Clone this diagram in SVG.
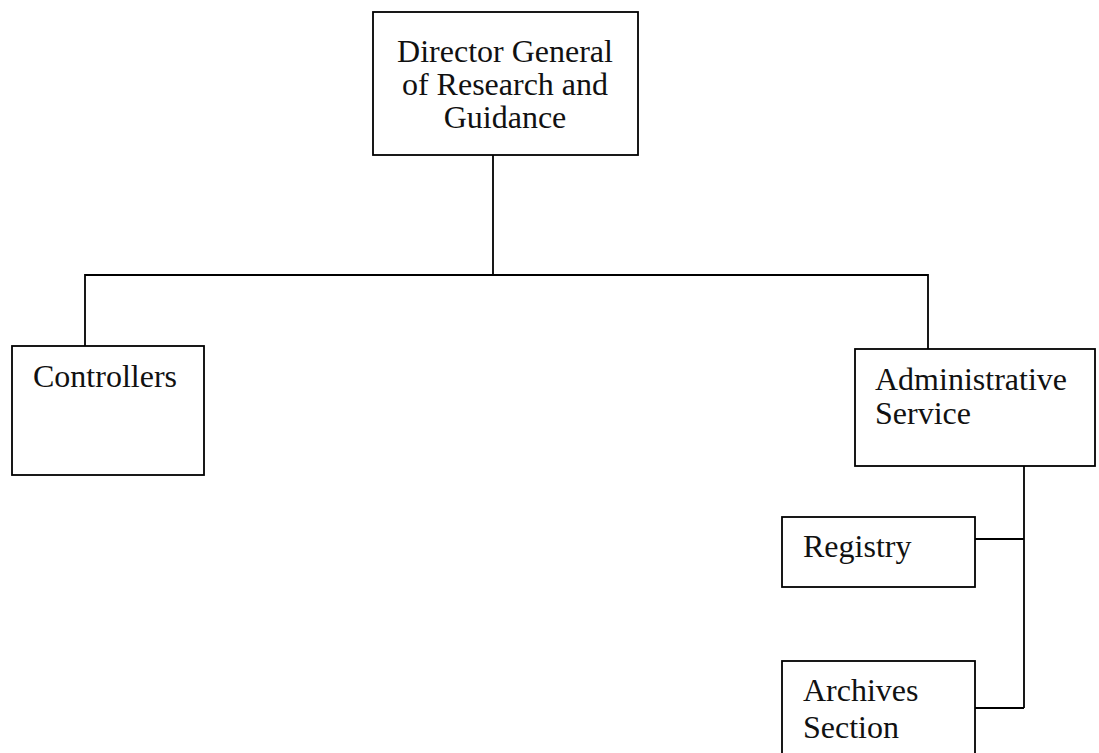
<svg xmlns="http://www.w3.org/2000/svg" width="1099" height="753" viewBox="0 0 1099 753">
<style>
.box{fill:#fff;stroke:#000;stroke-width:1.8}
.t{font-family:"Liberation Serif","Times New Roman",serif;font-size:32px;fill:#111}
.c{fill:none;stroke:#000;stroke-width:1.8}
</style>
<rect width="1099" height="753" fill="#fff"/>
<g id="connectors">
<path class="c" d="M493 155V275M85 346V275H928V349"/>
<path class="c" d="M1024 466V708M975 539H1024M975 708H1024"/>
</g>
<g id="director">
<rect class="box" x="373" y="12" width="265" height="143"/>
<text class="t" text-anchor="middle"><tspan x="505" y="62">Director General</tspan><tspan x="505" y="95">of Research and</tspan><tspan x="505" y="128">Guidance</tspan></text>
</g>
<g id="controllers">
<rect class="box" x="12" y="346" width="192" height="129"/>
<text class="t" x="33" y="387">Controllers</text>
</g>
<g id="admin">
<rect class="box" x="855" y="349" width="240" height="117"/>
<text class="t"><tspan x="875" y="390">Administrative</tspan><tspan x="875" y="424">Service</tspan></text>
</g>
<g id="registry">
<rect class="box" x="782" y="517" width="193" height="70"/>
<text class="t" x="803" y="557">Registry</text>
</g>
<g id="archives">
<rect class="box" x="782" y="661" width="193" height="110"/>
<text class="t"><tspan x="803" y="701">Archives</tspan><tspan x="803" y="738">Section</tspan></text>
</g>
</svg>
